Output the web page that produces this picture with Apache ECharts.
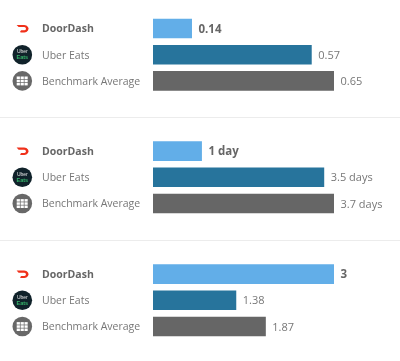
<!DOCTYPE html>
<html><head><meta charset="utf-8">
<style>html,body{margin:0;padding:0;background:#fff}#c{width:400px;height:361px}</style>
<script src="https://cdn.jsdelivr.net/npm/echarts@6/dist/echarts.min.js"></script></head>
<body><div id="c"></div>
<script>
const categories = ['DoorDash', 'Uber Eats', 'Benchmark Average'];
const panel1Values = [0.14, 0.57, 0.65];
const panel1Labels = ['0.14', '0.57', '0.65'];
const panel2Values = [1, 3.5, 3.7];
const panel2Labels = ['1 day', '3.5 days', '3.7 days'];
const panel3Values = [3, 1.38, 1.87];
const panel3Labels = ['3', '1.38', '1.87'];
const barColors = ['#62aee8', '#27749c', '#666666'];
const panels = [
  {values: panel1Values, labels: panel1Labels, top: 15.4},
  {values: panel2Values, labels: panel2Labels, top: 138},
  {values: panel3Values, labels: panel3Labels, top: 261}
];
const font = '"Open Sans"';
const H = 78.6;
const logoOutline = [[0.6,0],[8.2,0],[10.4,0.6],[12,2],[12.6,3.7],[12,5.6],[10.4,7],[8.4,7.6],[4.6,7.6],[4.1,6.7],[5.2,5.4],[8.3,5.4],[9.5,5],[10,3.8],[9.5,2.7],[8.3,2.2],[2.6,2.2]];
const chart = echarts.init(document.getElementById('c'), null, {renderer: 'canvas'});
const graphic = [];
[117, 240].forEach(y => graphic.push({type: 'rect', silent: true, shape: {x: 0, y: y, width: 400, height: 1}, style: {fill: '#ececec'}}));
panels.forEach(p => {
  const rowH = H / 3;
  const y0 = p.top + rowH / 2, y1 = y0 + rowH, y2 = y1 + rowH;
  graphic.push({type: 'polygon', silent: true, x: 16, y: y0 - 3.6, shape: {points: logoOutline}, style: {fill: '#f0301a'}});
  graphic.push({type: 'circle', silent: true, shape: {cx: 22.3, cy: y1, r: 9.8}, style: {fill: '#10222a'}});
  graphic.push({type: 'text', silent: true, style: {x: 22.3, y: y1 - 2.6, text: 'Uber', fill: '#e8e8e8', font: '5px "Liberation Sans"', align: 'center', verticalAlign: 'middle'}});
  graphic.push({type: 'text', silent: true, style: {x: 22.3, y: y1 + 3, text: 'Eats', fill: '#35b36b', font: 'bold 5.5px "Liberation Sans"', align: 'center', verticalAlign: 'middle'}});
  graphic.push({type: 'circle', silent: true, shape: {cx: 22.3, cy: y2, r: 9.8}, style: {fill: '#686868'}});
  [-5.6, -1.7, 2.2].forEach(dx => [-4.4, -1.2, 2].forEach(dy => {
    graphic.push({type: 'rect', silent: true, shape: {x: 22.3 + dx, y: y2 + dy, width: 3.2, height: 2.5}, style: {fill: '#fff'}});
  }));
});
chart.setOption({
  animation: false,
  backgroundColor: '#fff',
  graphic: graphic,
  grid: panels.map(p => ({left: 153, width: 181, top: p.top, height: H})),
  xAxis: panels.map((p, i) => ({gridIndex: i, type: 'value', min: 0, max: Math.max(...p.values), show: false})),
  yAxis: panels.map((p, i) => ({
    gridIndex: i, type: 'category', inverse: true, data: categories,
    axisLine: {show: false}, axisTick: {show: false},
    axisLabel: {
      margin: 111, align: 'left', fontFamily: font, fontSize: 10.5, color: '#777777', padding: [2, 0, 0, 0],
      formatter: (v, idx) => idx === 0 ? '{b|' + v + '}' : v,
      rich: {b: {fontFamily: font, fontSize: 10.5, fontWeight: 'bold', color: '#666666'}}
    }
  })),
  series: panels.map((p, i) => ({
    type: 'bar', xAxisIndex: i, yAxisIndex: i, barWidth: 19.6,
    data: p.values.map((v, j) => ({
      value: v,
      itemStyle: {color: barColors[j]},
      label: {
        show: true, position: 'right', distance: 6.5, offset: [0, 1],
        formatter: p.labels[j], fontFamily: font, fontSize: j === 0 ? 11.5 : 11,
        fontWeight: j === 0 ? 'bold' : 'normal',
        color: j === 0 ? '#666666' : '#777777'
      }
    }))
  }))
});
</script></body></html>
